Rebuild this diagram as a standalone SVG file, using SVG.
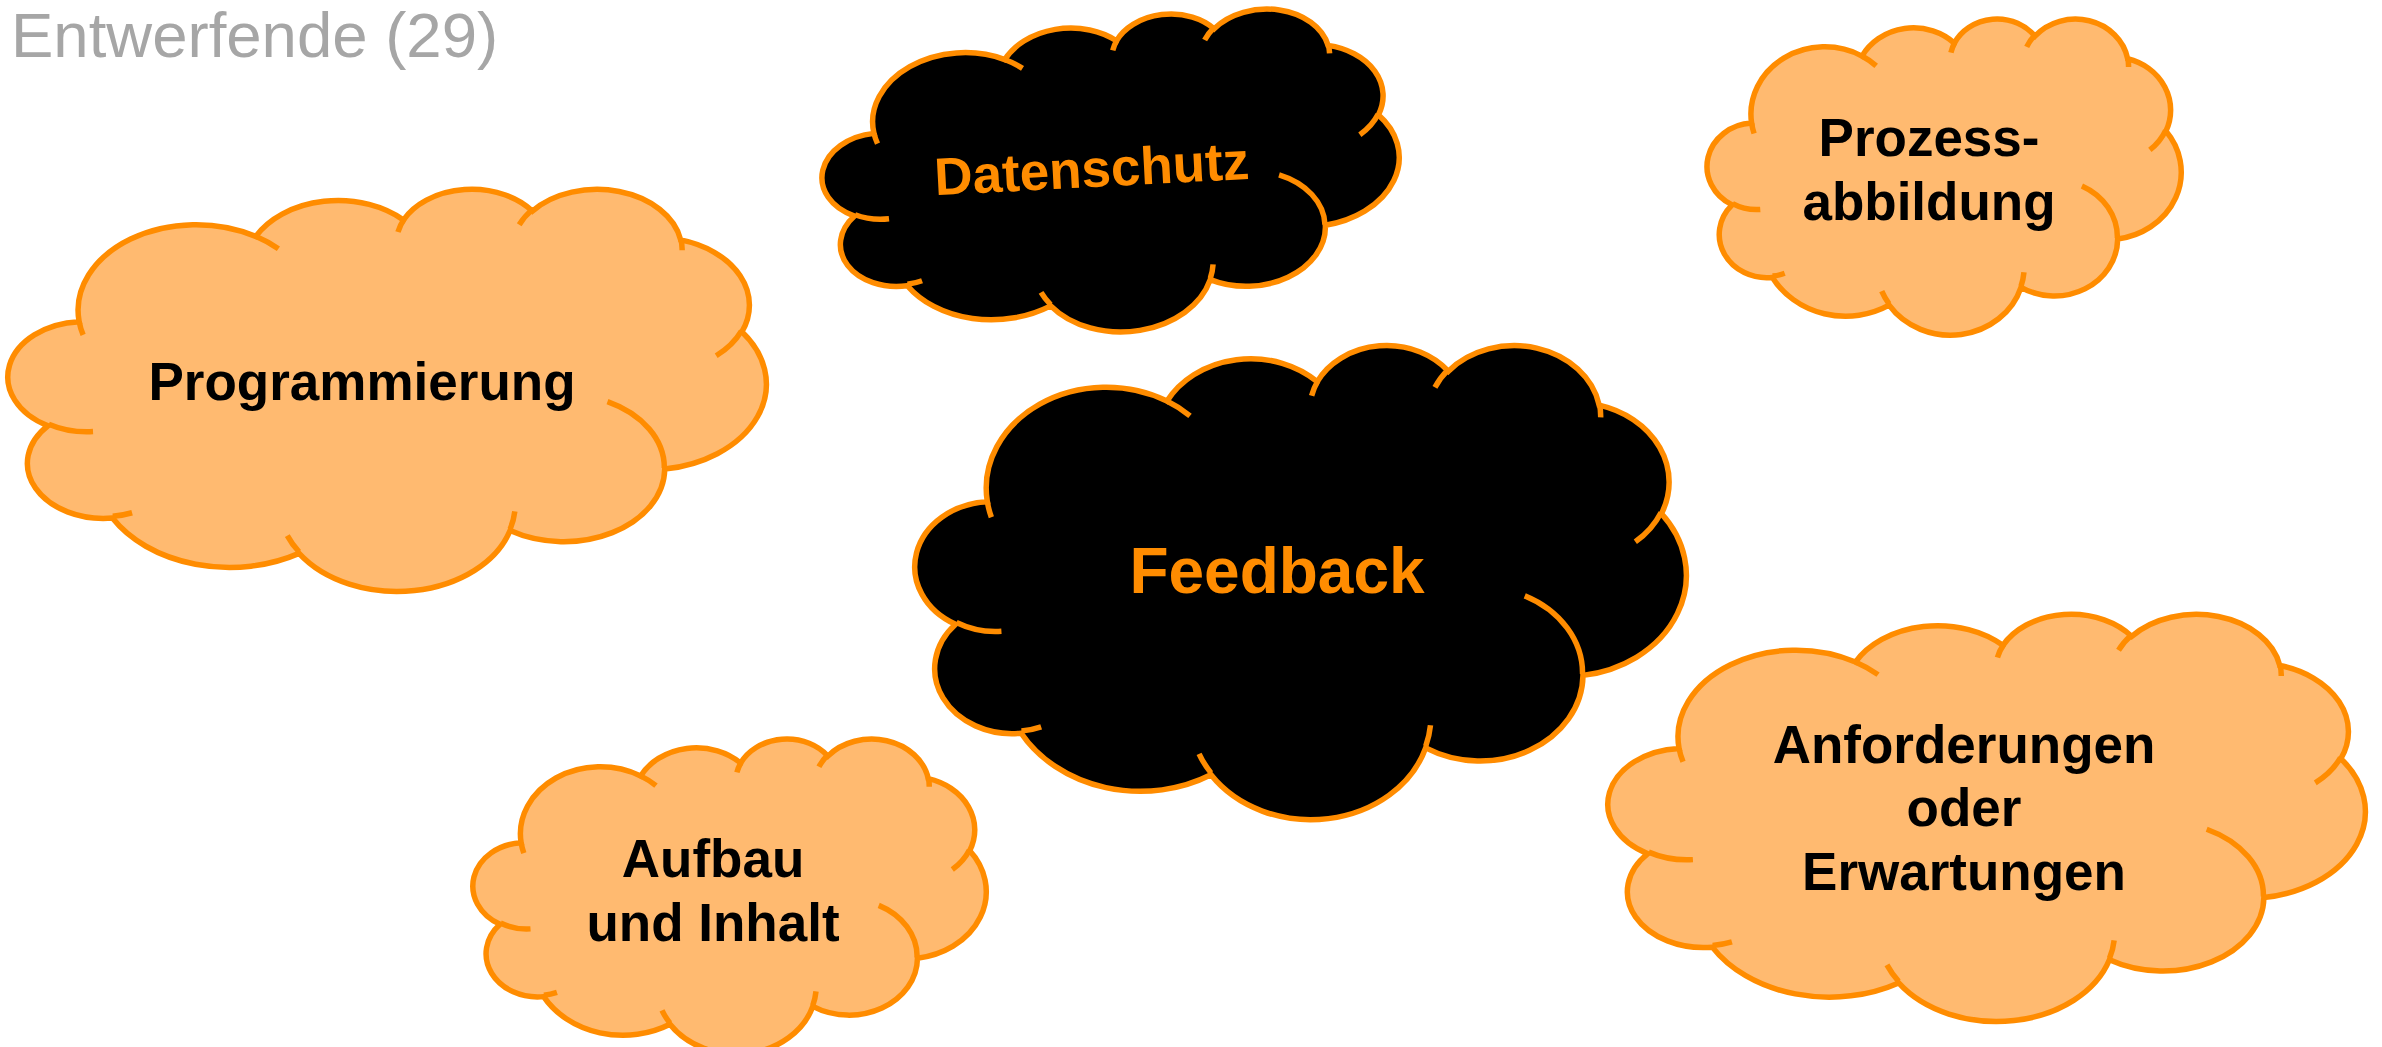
<svg xmlns="http://www.w3.org/2000/svg" xmlns:xlink="http://www.w3.org/1999/xlink" width="2382" height="1047" viewBox="0 0 2382 1047">
  <style>
    .title { font-family: "Liberation Sans", Arial, sans-serif; font-size: 63.5px; fill: #A6A6A6; }
    .lbl { font-family: "Liberation Sans", Arial, sans-serif; font-weight: bold; font-size: 53px; text-anchor: middle; fill: #000000; }
    .lbl-or { fill: #FF8C00; }
    .light { fill: #FFBA70; stroke: #FF8C00; stroke-width: 5.5; }
    .dark { fill: #000000; stroke: #FF8C00; stroke-width: 5.5; }
    .detail { fill: none; stroke: #FF8C00; stroke-width: 5.5; }
  </style>
  <defs>
    <path id="cloudBody" vector-effect="non-scaling-stroke" d="M3900,14370 A6753,9190 0 0 1 14005,5202 A5333,7267 0 0 1 22456,3432 A4365,5945 0 0 1 29833,2481 A4857,6595 0 0 1 38318,5576 A5333,7273 0 0 1 41819,15460 A6775,9220 0 0 1 37405,30203 A5785,7867 0 0 1 28556,36813 A6752,9215 0 0 1 16481,39264 A7720,10543 0 0 1 5805,35470 A4360,5918 0 0 1 2114,25548 A4345,5945 0 0 1 3900,14370 Z"/>
    <path id="cloudDetail" vector-effect="non-scaling-stroke" fill="none" d="M4693,26177 A4345,5945 0 0 1 2160,25380 M6928,34899 A4360,5918 0 0 1 5820,35281 M16478,39090 A6752,9215 0 0 1 15810,37350 M28827,34751 A6752,9215 0 0 1 28560,36660 M34129,22954 A5785,7867 0 0 1 37381,30090 M41798,15354 A5333,7273 0 0 1 40350,18030 M38324,5426 A4857,6595 0 0 1 38400,6690 M29078,3952 A4857,6595 0 0 1 29820,2340 M22141,4720 A4365,5945 0 0 1 22500,3330 M14000,5192 A6753,9190 0 0 1 15300,6540 M4127,15789 A6753,9190 0 0 1 3900,14370"/>
  </defs>

  <text class="title" x="11" y="57">Entwerfende (29)</text>

  <g id="connectors"></g>

  <g id="node-programmierung">
    <g transform="translate(11,188) scale(0.017477,0.0093056)">
      <use href="#cloudBody" class="light"/>
      <use href="#cloudDetail" class="detail"/>
    </g>
    <text class="lbl" x="362" y="400">Programmierung</text>
  </g>

  <g id="node-datenschutz" transform="rotate(-3 1112 173.7)">
    <g transform="translate(824.5,16.2) scale(0.013310,0.0072917)">
      <use href="#cloudBody" class="dark"/>
      <use href="#cloudDetail" class="detail"/>
    </g>
    <text class="lbl lbl-or" x="1092" y="186">Datenschutz</text>
  </g>

  <g id="node-prozessabbildung">
    <g transform="translate(1709,18) scale(0.010926,0.0073148)">
      <use href="#cloudBody" class="light"/>
      <use href="#cloudDetail" class="detail"/>
    </g>
    <text class="lbl" x="1929" y="156">Prozess-</text>
    <text class="lbl" x="1929" y="220">abbildung</text>
  </g>

  <g id="node-feedback">
    <g transform="translate(918,344) scale(0.017778,0.010972)">
      <use href="#cloudBody" class="dark"/>
      <use href="#cloudDetail" class="detail"/>
    </g>
    <text class="lbl lbl-or" x="1277" y="593" style="font-size:64px">Feedback</text>
  </g>

  <g id="node-aufbau">
    <g transform="translate(475,738) scale(0.011829,0.0072917)">
      <use href="#cloudBody" class="light"/>
      <use href="#cloudDetail" class="detail"/>
    </g>
    <text class="lbl" x="713" y="877">Aufbau</text>
    <text class="lbl" x="713" y="941">und Inhalt</text>
  </g>

  <g id="node-anforderungen">
    <g transform="translate(1611,613) scale(0.017454,0.0094213)">
      <use href="#cloudBody" class="light"/>
      <use href="#cloudDetail" class="detail"/>
    </g>
    <text class="lbl" x="1964" y="763">Anforderungen</text>
    <text class="lbl" x="1964" y="826">oder</text>
    <text class="lbl" x="1964" y="890">Erwartungen</text>
  </g>
</svg>
